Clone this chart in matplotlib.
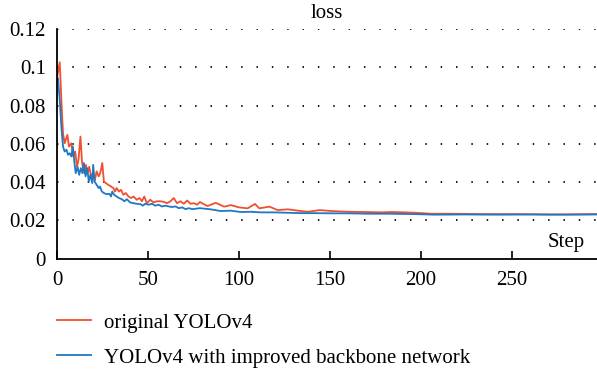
import matplotlib
matplotlib.use("Agg")
import matplotlib.pyplot as plt

# ---- data ----
red_steps = [0, 1.5, 2.4, 3.3, 4.2, 5.7, 6.6, 7.9, 8.9, 10, 11, 11.8, 12.9, 13.8, 15, 15.9,
             16.8, 17.7, 18.8, 19.9, 20.8, 21.8, 22.9, 23.8, 24.9, 25.8, 26.9, 28.2, 29.7, 31,
             31.9, 32.8, 34.1, 35.2, 36.5, 37.8, 39.3, 40.8, 42, 43.9, 45.4, 46.7, 48, 49.4,
             51.3, 53, 55, 56.8, 58.7, 60.5, 62.4, 64.2, 66, 67.9, 69.7, 71.6, 73.4, 75.3,
             77.1, 78.6, 82.7, 87.3, 91.9, 95.6, 100.2, 104.8, 108.9, 111.3, 116.8, 121.4,
             126.9, 132.5, 138, 144.5, 150.9, 160.2, 169.3, 178.6, 184, 191.5, 196.8, 206,
             215.2, 234, 252, 270.8, 297]
red_loss = [0.0943, 0.1026, 0.083, 0.0656, 0.0603, 0.0647, 0.0586, 0.0603, 0.0534, 0.056,
            0.048, 0.0517, 0.0638, 0.050, 0.0447, 0.049, 0.0447, 0.048, 0.043, 0.0447, 0.041,
            0.0456, 0.043, 0.0447, 0.050, 0.0403, 0.0395, 0.0386, 0.0377, 0.0369, 0.0351,
            0.0369, 0.0351, 0.036, 0.0334, 0.0343, 0.0325, 0.0317, 0.0325, 0.0308, 0.0317,
            0.030, 0.0325, 0.029, 0.0308, 0.0294, 0.030, 0.030, 0.0297, 0.029, 0.030, 0.0317,
            0.029, 0.030, 0.0287, 0.0304, 0.0287, 0.029, 0.0282, 0.0296, 0.0275, 0.0292,
            0.0272, 0.028, 0.0268, 0.0263, 0.0286, 0.0263, 0.0272, 0.0254, 0.0258, 0.0251,
            0.0245, 0.0254, 0.0249, 0.0245, 0.0244, 0.0242, 0.0244, 0.0242, 0.024, 0.0235,
            0.0235, 0.0233, 0.0233, 0.0231, 0.0233]

blue_steps = [0, 0.5, 1.5, 2.4, 3.3, 4.2, 5.2, 6.1, 7, 7.9, 8.7, 9.6, 10.3, 11.3, 12.2, 13.1,
              14, 14.8, 15.7, 16.6, 17.5, 18.4, 19.4, 19.9, 20.7, 21.8, 22.9, 23.6, 24.7, 25.8,
              27.3, 28.8, 29.7, 30.4, 31.4, 32.8, 34.1, 35.6, 37.1, 38.4, 40.2, 42, 43.9, 45.8,
              47.2, 48.5, 50.4, 52.2, 54.1, 55.9, 57.7, 59.6, 61.4, 63.3, 65.1, 67, 68.8, 70.7,
              72.5, 74.4, 76.2, 78.6, 84.5, 90, 95.6, 101, 106.7, 112, 119.5, 126.9, 134.3,
              141.6, 150.9, 160.2, 171.2, 182.3, 196.8, 208, 224.6, 243, 261.5, 280, 297]
blue_loss = [0.0934, 0.0943, 0.083, 0.069, 0.0586, 0.056, 0.0569, 0.0543, 0.0551, 0.0534,
             0.0586, 0.050, 0.0447, 0.048, 0.0438, 0.0473, 0.0447, 0.050, 0.043, 0.0473,
             0.0403, 0.0438, 0.0395, 0.049, 0.0403, 0.0386, 0.0369, 0.0377, 0.0351, 0.0343,
             0.0337, 0.0339, 0.0325, 0.0351, 0.0334, 0.0325, 0.0317, 0.0311, 0.030, 0.0311,
             0.0294, 0.029, 0.0287, 0.0285, 0.0277, 0.0287, 0.0282, 0.0287, 0.0277, 0.0282,
             0.0273, 0.0277, 0.0273, 0.027, 0.0273, 0.0264, 0.0268, 0.0259, 0.0264, 0.0259,
             0.0261, 0.0264, 0.0258, 0.0249, 0.0251, 0.0244, 0.0245, 0.0242, 0.0242, 0.024,
             0.0238, 0.0238, 0.0237, 0.0237, 0.0235, 0.0235, 0.0233, 0.023, 0.0231, 0.023,
             0.0231, 0.023, 0.0231]

x_ticks = [0, 50, 100, 150, 200, 250]
y_ticks = [0, 0.02, 0.04, 0.06, 0.08, 0.1, 0.12]
y_tick_labels = ["0", "0.02", "0.04", "0.06", "0.08", "0.1", "0.12"]
series_labels = ["original YOLOv4", "YOLOv4 with improved backbone network"]

RED = "#f0502d"
BLUE = "#1f78c1"

plt.rcParams["font.family"] = ["Liberation Serif", "DejaVu Serif"]
FS = 15

fig = plt.figure(figsize=(5.97, 3.77), dpi=100)
ax = fig.add_axes([57 / 597, (377 - 258.7) / 377, 1 - 57 / 597, (258.7 - 29) / 377])

l1, = ax.plot(red_steps, red_loss, color=RED, lw=1.3, label=series_labels[0])
l2, = ax.plot(blue_steps, blue_loss, color=BLUE, lw=1.3, label=series_labels[1])

ax.set_xlim(0, 297)
ax.set_ylim(0, 0.12)
ax.set_xticks(x_ticks)
ax.set_yticks(y_ticks)
ax.set_yticklabels(y_tick_labels)
ax.tick_params(axis="x", direction="in", length=6, width=1.2, labelsize=FS, pad=9)
ax.tick_params(axis="y", length=0, labelsize=FS, pad=8)

for s in ["top", "right"]:
    ax.spines[s].set_visible(False)
for s in ["left", "bottom"]:
    ax.spines[s].set_linewidth(1.3)
    ax.spines[s].set_zorder(5)

for yv in y_ticks[1:]:
    ax.axhline(yv, color="black", lw=1.3, linestyle=(0, (0.8, 7.7)), zorder=0)

ax.set_title("loss", fontsize=FS, pad=8)
ax.text(0.978, 0.03, "Step", transform=ax.transAxes, ha="right", va="bottom", fontsize=FS)

fig.legend(handles=[l1, l2], loc="upper left", bbox_to_anchor=(57 / 597, (377 - 313) / 377),
           frameon=False, fontsize=FS, handlelength=1.65, handletextpad=0.6,
           labelspacing=0.75, borderpad=0, borderaxespad=0)

fig.savefig("out.png", dpi=100)
